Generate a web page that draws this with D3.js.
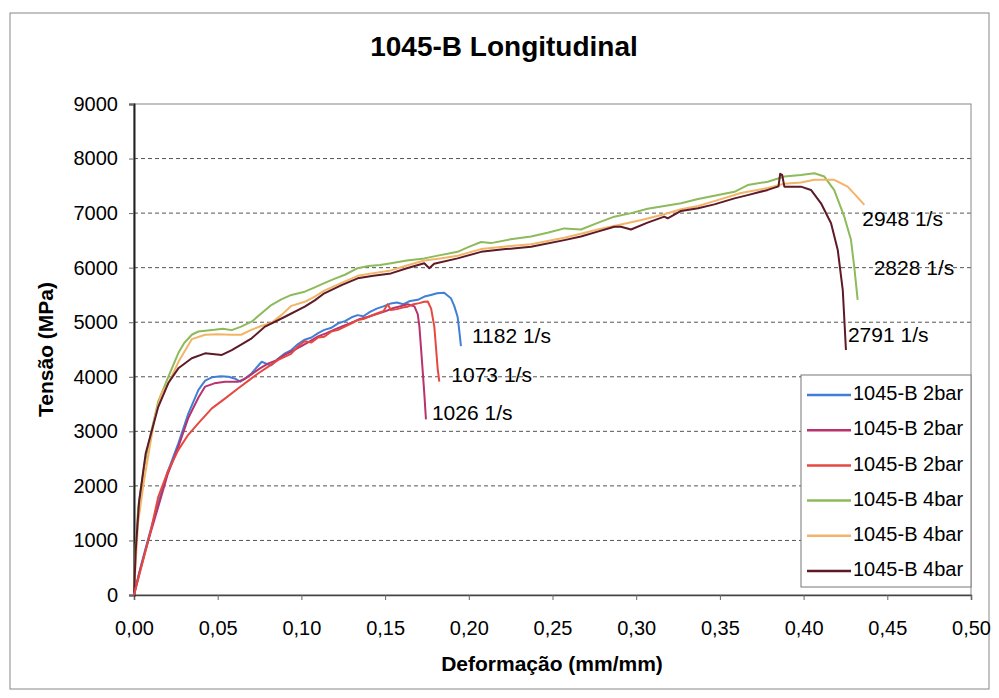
<!DOCTYPE html>
<html lang="pt">
<head>
  <meta charset="utf-8">
  <script src="https://d3js.org/d3.v7.min.js"></script>
  <style>
    body { margin: 0; background: #fff; }
    text { font-family: "Liberation Sans", Arial, sans-serif; fill: #000; }
    .title { font-size: 28px; font-weight: bold; }
    .axis-title { font-size: 21px; font-weight: bold; }
    .tick text { font-size: 20px; }
    .rate { font-size: 21px; }
    .leg { font-size: 20px; }
  </style>
</head>
<body>
<script>
  // ---- data ----
  var xTicks = [0, 0.05, 0.10, 0.15, 0.20, 0.25, 0.30, 0.35, 0.40, 0.45, 0.50];
  var yTicks = [0, 1000, 2000, 3000, 4000, 5000, 6000, 7000, 8000, 9000];

  var seriesNames = ["1045-B 2bar", "1045-B 2bar", "1045-B 2bar", "1045-B 4bar", "1045-B 4bar", "1045-B 4bar"];
  var seriesColors = ["#3f7fd6", "#b8326e", "#e5483f", "#8dba5a", "#f2b466", "#5e1a26"];
  var rateLabels = ["1182 1/s", "1026 1/s", "1073 1/s", "2828 1/s", "2948 1/s", "2791 1/s"];

  var blue1182 = [[0,0],[0.003,400],[0.006,750],[0.010,1200],[0.0145,1680],[0.020,2250],[0.0265,2780],[0.0325,3330],
    [0.0385,3760],[0.0425,3930],[0.0465,3990],[0.052,4010],[0.0565,4000],[0.060,3970],[0.0635,3910],[0.067,3980],
    [0.0703,4065],[0.0735,4180],[0.0763,4275],[0.079,4240],[0.082,4210],[0.086,4330],[0.0902,4430],[0.094,4490],
    [0.098,4600],[0.102,4680],[0.106,4720],[0.110,4800],[0.1137,4860],[0.118,4900],[0.122,4980],[0.126,5020],
    [0.130,5090],[0.1336,5130],[0.137,5110],[0.141,5190],[0.145,5250],[0.149,5290],[0.1535,5345],[0.157,5360],
    [0.161,5330],[0.165,5390],[0.1695,5410],[0.1735,5470],[0.1774,5500],[0.181,5530],[0.1853,5540],[0.1893,5440],
    [0.1913,5300],[0.1933,5100],[0.1943,4850],[0.1953,4560]];

  var magenta1026 = [[0,0],[0.003,380],[0.006,720],[0.010,1150],[0.0145,1620],[0.020,2200],[0.0265,2720],[0.0325,3250],
    [0.0385,3620],[0.0425,3820],[0.048,3880],[0.0545,3910],[0.0623,3910],[0.066,3960],[0.070,4040],[0.075,4150],
    [0.080,4240],[0.085,4300],[0.090,4400],[0.095,4480],[0.100,4560],[0.105,4650],[0.110,4740],[0.115,4800],
    [0.120,4870],[0.125,4930],[0.130,4990],[0.135,5060],[0.140,5100],[0.145,5150],[0.150,5200],[0.155,5260],
    [0.160,5300],[0.1635,5330],[0.1675,5290],[0.1695,5150],[0.1705,4920],[0.172,4300],[0.1734,3700],[0.1744,3220]];

  var red1073 = [[0,0],[0.003,350],[0.006,700],[0.010,1180],[0.0145,1800],[0.020,2250],[0.0265,2660],[0.032,2920],
    [0.0385,3150],[0.0465,3420],[0.0545,3605],[0.0623,3790],[0.068,3920],[0.0743,4065],[0.080,4180],[0.0862,4310],
    [0.0938,4420],[0.098,4560],[0.102,4650],[0.106,4630],[0.110,4720],[0.1137,4735],[0.118,4830],[0.122,4860],
    [0.126,4920],[0.130,4980],[0.1336,5040],[0.137,5060],[0.141,5110],[0.145,5160],[0.149,5200],[0.1515,5330],
    [0.1535,5225],[0.157,5240],[0.1605,5270],[0.1635,5285],[0.167,5330],[0.1705,5350],[0.1734,5375],[0.1755,5380],
    [0.1775,5250],[0.1794,4920],[0.1805,4500],[0.1814,4150],[0.1824,3910]];

  var green2828 = [[0,0],[0.001,900],[0.0026,1620],[0.006,2350],[0.010,2950],[0.0145,3550],[0.0205,4000],[0.0264,4430],
    [0.030,4620],[0.0345,4770],[0.0385,4830],[0.0425,4845],[0.048,4860],[0.053,4880],[0.0584,4855],[0.064,4920],
    [0.0703,5010],[0.076,5160],[0.082,5315],[0.088,5420],[0.094,5500],[0.102,5560],[0.108,5640],[0.114,5720],
    [0.120,5800],[0.126,5870],[0.1336,5990],[0.140,6030],[0.147,6050],[0.1535,6080],[0.163,6130],[0.1734,6170],
    [0.183,6230],[0.1933,6290],[0.200,6380],[0.2073,6470],[0.2132,6450],[0.225,6520],[0.2372,6570],[0.247,6640],
    [0.2571,6720],[0.267,6700],[0.277,6820],[0.2869,6935],[0.297,7000],[0.3068,7080],[0.3168,7130],[0.3268,7180],
    [0.337,7260],[0.3467,7320],[0.3587,7390],[0.3666,7515],[0.3786,7575],[0.3885,7670],[0.3984,7700],[0.4064,7730],
    [0.4124,7670],[0.4183,7420],[0.4243,6935],[0.4283,6510],[0.4303,6000],[0.4323,5410]];

  var orange2948 = [[0,0],[0.001,600],[0.0024,1320],[0.006,2100],[0.0125,3270],[0.0165,3700],[0.0205,3880],[0.027,4300],
    [0.0345,4690],[0.0425,4770],[0.050,4780],[0.058,4770],[0.064,4770],[0.070,4860],[0.076,4930],[0.082,4985],
    [0.088,5130],[0.094,5300],[0.102,5375],[0.108,5470],[0.1137,5580],[0.124,5720],[0.1336,5850],[0.143,5900],
    [0.1535,5950],[0.163,6040],[0.1734,6130],[0.183,6170],[0.1933,6220],[0.2073,6340],[0.222,6390],[0.2372,6430],
    [0.2571,6550],[0.267,6620],[0.277,6700],[0.2909,6790],[0.3038,6880],[0.3168,6980],[0.3268,7070],[0.337,7130],
    [0.3467,7220],[0.3626,7370],[0.3786,7460],[0.3885,7540],[0.3984,7560],[0.4064,7610],[0.4183,7610],[0.4263,7485],
    [0.4313,7320],[0.4363,7150]];

  var brown2791 = [[0,0],[0.001,800],[0.003,1700],[0.007,2600],[0.0145,3450],[0.0205,3885],[0.0265,4155],[0.0345,4340],
    [0.0425,4430],[0.0525,4400],[0.0584,4490],[0.0645,4600],[0.0703,4705],[0.0783,4920],[0.0902,5100],[0.102,5285],
    [0.108,5400],[0.1137,5530],[0.124,5680],[0.1336,5805],[0.143,5850],[0.1535,5895],[0.163,5990],[0.1734,6080],
    [0.1764,5990],[0.1793,6070],[0.1933,6170],[0.2073,6290],[0.222,6340],[0.2372,6385],[0.2571,6505],[0.267,6570],
    [0.277,6660],[0.2869,6750],[0.2909,6750],[0.2969,6700],[0.3068,6825],[0.3168,6935],[0.3188,6905],[0.3268,7040],
    [0.337,7090],[0.3467,7160],[0.3587,7270],[0.3666,7330],[0.3786,7425],[0.385,7490],[0.386,7720],[0.3872,7700],
    [0.3885,7485],[0.3984,7485],[0.4044,7425],[0.4104,7180],[0.4164,6815],[0.4204,6325],[0.4234,5590],[0.4253,4490]];

  var allSeries = [blue1182, magenta1026, red1073, green2828, orange2948, brown2791];

  // ---- layout ----
  var W = 999, H = 698;
  var pLeft = 134, pRight = 971, pTop = 104, pBottom = 595;

  var svg = d3.select("body").append("svg")
    .attr("width", W)
    .attr("height", H);

  svg.append("rect")
    .attr("x", 10).attr("y", 13)
    .attr("width", 979).attr("height", 676)
    .attr("fill", "#fff")
    .attr("stroke", "#888").attr("stroke-width", 1);

  var x = d3.scaleLinear().domain([0, 0.5]).range([pLeft, pRight]);
  var y = d3.scaleLinear().domain([0, 9000]).range([pBottom, pTop]);

  // gridlines
  svg.append("g").selectAll("line")
    .data(yTicks.filter(function (d) { return d > 0 && d < 9000; }))
    .enter().append("line")
    .attr("x1", pLeft).attr("x2", pRight)
    .attr("y1", function (d) { return y(d); })
    .attr("y2", function (d) { return y(d); })
    .attr("stroke", "#555")
    .attr("stroke-width", 1)
    .attr("stroke-dasharray", "4,3");

  // plot frame
  svg.append("rect")
    .attr("x", pLeft).attr("y", pTop)
    .attr("width", pRight - pLeft).attr("height", pBottom - pTop)
    .attr("fill", "none")
    .attr("stroke", "#888").attr("stroke-width", 1);

  var fmt = function (d) { return d3.format(".2f")(d).replace(".", ","); };

  var xAxis = svg.append("g")
    .attr("transform", "translate(0," + pBottom + ")")
    .call(d3.axisBottom(x).tickValues(xTicks).tickFormat(fmt).tickSize(5).tickPadding(21));
  var yAxis = svg.append("g")
    .attr("transform", "translate(" + pLeft + ",0)")
    .call(d3.axisLeft(y).tickValues(yTicks).tickFormat(d3.format("d")).tickSize(5).tickPadding(11));
  [xAxis, yAxis].forEach(function (a) {
    a.select(".domain").attr("stroke", "#444").attr("stroke-width", 1.5);
    a.selectAll(".tick line").attr("stroke", "#666");
    a.selectAll(".tick text").attr("font-family", null).attr("font-size", null);
  });
  yAxis.select(".domain").attr("stroke", "#222").attr("stroke-width", 2);

  // lines
  var line = d3.line()
    .x(function (d) { return x(d[0]); })
    .y(function (d) { return y(d[1]); });

  var drawOrder = [3, 4, 5, 0, 1, 2];
  drawOrder.forEach(function (i) {
    svg.append("path")
      .datum(allSeries[i])
      .attr("d", line)
      .attr("fill", "none")
      .attr("stroke", seriesColors[i])
      .attr("stroke-width", 2)
      .attr("stroke-linejoin", "round");
  });

  // rate labels at the end of each curve
  var labelPos = [[11, -9], [6, -5], [12, -5], [16, -30], [-2, 16], [2, -14]];
  allSeries.forEach(function (s, i) {
    var last = s[s.length - 1];
    svg.append("text")
      .attr("class", "rate")
      .attr("x", x(last[0]) + labelPos[i][0])
      .attr("y", y(last[1]) + labelPos[i][1])
      .attr("dominant-baseline", "middle")
      .text(rateLabels[i]);
  });

  // legend
  var leg = svg.append("g");
  leg.append("rect")
    .attr("x", 801).attr("y", 375)
    .attr("width", pRight - 801).attr("height", 212)
    .attr("fill", "#fff")
    .attr("stroke", "#777").attr("stroke-width", 1);
  seriesNames.forEach(function (n, i) {
    var ly = 395 + i * 35.2;
    leg.append("line")
      .attr("x1", 807).attr("x2", 851)
      .attr("y1", ly).attr("y2", ly)
      .attr("stroke", seriesColors[i]).attr("stroke-width", 2.5);
    leg.append("text")
      .attr("class", "leg")
      .attr("x", 853).attr("y", ly)
      .attr("dominant-baseline", "middle")
      .text(n);
  });

  // titles
  svg.append("text")
    .attr("class", "title")
    .attr("x", 504).attr("y", 49)
    .attr("text-anchor", "middle")
    .attr("dominant-baseline", "middle")
    .text("1045-B Longitudinal");

  svg.append("text")
    .attr("class", "axis-title")
    .attr("x", 552).attr("y", 665)
    .attr("text-anchor", "middle")
    .attr("dominant-baseline", "middle")
    .text("Deformação (mm/mm)");

  svg.append("text")
    .attr("class", "axis-title")
    .attr("transform", "translate(47," + ((pTop + pBottom) / 2) + ") rotate(-90)")
    .attr("text-anchor", "middle")
    .attr("dominant-baseline", "middle")
    .text("Tensão (MPa)");
</script>
</body>
</html>
